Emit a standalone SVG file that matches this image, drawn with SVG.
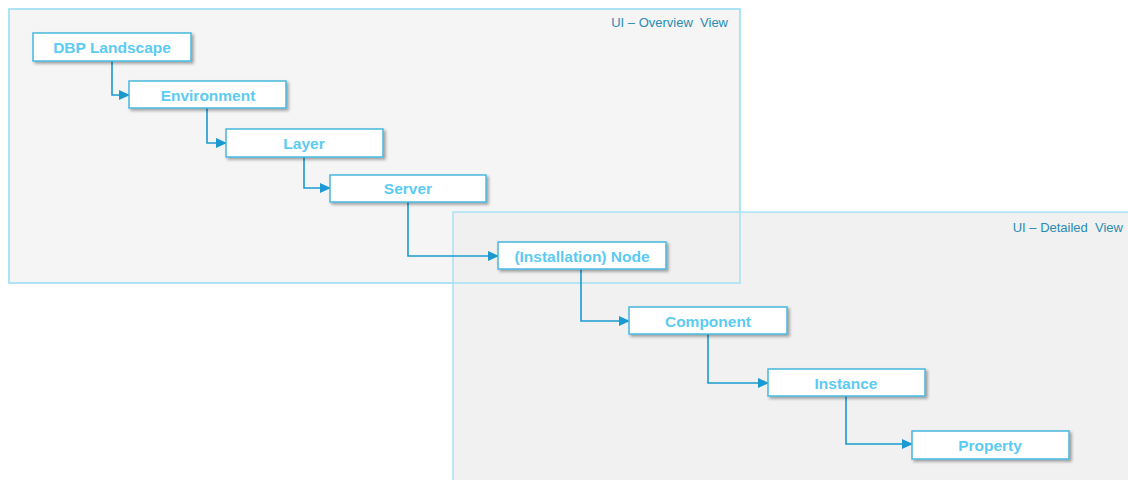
<svg xmlns="http://www.w3.org/2000/svg" width="1128" height="480" viewBox="0 0 1128 480">
  <defs>
    <filter id="sh" x="-10%" y="-30%" width="125%" height="180%">
      <feDropShadow dx="2" dy="2" stdDeviation="1.5" flood-color="#000" flood-opacity="0.35"/>
    </filter>
    <marker id="arr" markerWidth="11" markerHeight="11" refX="10" refY="5.5" orient="auto" markerUnits="userSpaceOnUse">
      <path d="M0,0.5 L11,5.5 L0,10.5 Z" fill="#1a9ad0"/>
    </marker>
    <style>
      .panel { stroke: #a8e2f4; stroke-width: 1.5; }
      .plabel { font-family: "Liberation Sans", Arial, sans-serif; font-size: 13px; fill: #2a8cb3; text-anchor: end; white-space: pre; }
      .node rect { fill: #ffffff; stroke: #47b8e0; stroke-width: 1.5; filter: url(#sh); }
      .node text { font-family: "Liberation Sans", Arial, sans-serif; font-size: 15.5px; font-weight: bold; fill: #5ccbf2; text-anchor: middle; }
      .conn path { fill: none; stroke: #1a9ad0; stroke-width: 1.6; marker-end: url(#arr); }
    </style>
  </defs>
  <rect width="1128" height="480" fill="#ffffff"/>
  <g id="panel-overview">
    <rect class="panel" x="9" y="9" width="731" height="274" fill="#f5f5f5"/>
    <text class="plabel" x="728" y="27" xml:space="preserve">UI – Overview  View</text>
  </g>
  <g id="panel-detailed">
    <rect class="panel" x="453" y="212" width="690" height="280" fill="#eeeeee" fill-opacity="0.85"/>
    <rect x="9" y="9" width="731" height="274" fill="none" stroke="#a8e2f4" stroke-width="1.5"/>
    <text class="plabel" x="1123" y="232" xml:space="preserve">UI – Detailed  View</text>
  </g>
  <g id="connectors" class="conn">
    <path d="M112,61 V95 H129"/>
    <path d="M207,108 V143 H226"/>
    <path d="M304,157 V188 H330"/>
    <path d="M408,202 V256 H498"/>
    <path d="M581,269 V321 H629"/>
    <path d="M708,334 V383 H768"/>
    <path d="M846,396 V444 H912"/>
  </g>
  <g id="n-dbp" class="node">
    <rect x="33" y="33" width="158" height="28"/>
    <text x="112" y="53">DBP Landscape</text>
  </g>
  <g id="n-env" class="node">
    <rect x="129" y="81" width="157" height="27"/>
    <text x="208" y="100.5">Environment</text>
  </g>
  <g id="n-layer" class="node">
    <rect x="226" y="129" width="157" height="28"/>
    <text x="304" y="149">Layer</text>
  </g>
  <g id="n-server" class="node">
    <rect x="330" y="175" width="156" height="27"/>
    <text x="408" y="194">Server</text>
  </g>
  <g id="n-node" class="node">
    <rect x="498" y="242" width="168" height="27"/>
    <text x="582" y="261.5">(Installation) Node</text>
  </g>
  <g id="n-component" class="node">
    <rect x="629" y="307" width="158" height="27"/>
    <text x="708" y="326.5">Component</text>
  </g>
  <g id="n-instance" class="node">
    <rect x="768" y="369" width="157" height="27"/>
    <text x="846" y="389">Instance</text>
  </g>
  <g id="n-property" class="node">
    <rect x="912" y="431" width="157" height="28"/>
    <text x="990" y="451">Property</text>
  </g>
</svg>
